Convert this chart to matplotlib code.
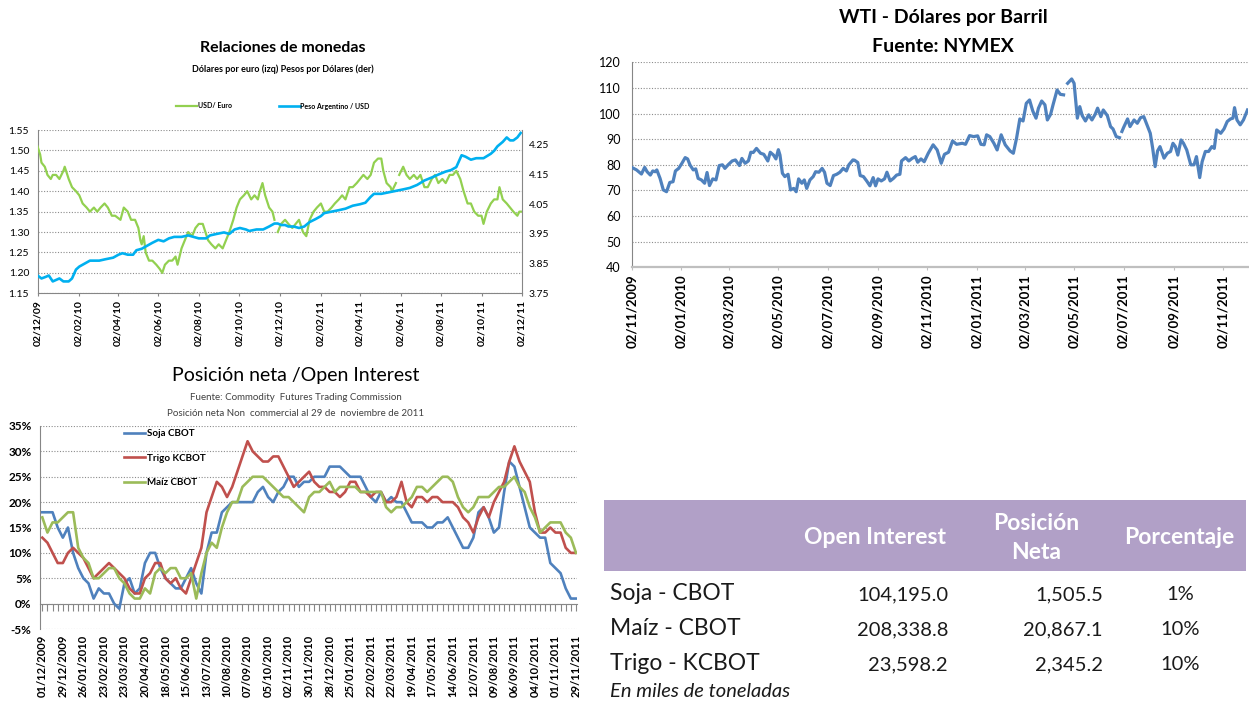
import numpy as np
import pandas as pd
import matplotlib
matplotlib.use("Agg")
import matplotlib.pyplot as plt
from matplotlib.patches import Rectangle

plt.rcParams['font.family'] = ['Lato', 'DejaVu Sans']

# ---------------- data: Relaciones de monedas ----------------
fx_start = "2009-12-02"
fx_end = "2011-12-02"
eur_days = [0, 4, 6, 11, 15, 20, 23, 28, 33, 39,
            41, 47, 52, 58, 63, 68, 74, 79, 85, 90,
            95, 101, 106, 112, 117, 125, 130, 136, 141, 147,
            152, 155, 157, 160, 163, 168, 173, 179, 184, 188,
            192, 198, 203, 208, 211, 217, 222, 227, 233, 238,
            243, 249, 253, 257, 262, 268, 273, 279, 284, 289,
            295, 300, 305, 311, 316, 322, 327, 332, 335, 339,
            343, 349, 354, 357, 359, 362, 367, 373, 378, 384,
            389, 394, 400, 405, 410, 416, 421, 427, 432, 437,
            443, 448, 454, 459, 464, 470, 475, 481, 486, 491,
            497, 502, 507, 513, 518, 521, 526, 532, 534, 540,
            542, 545, 551, 556, 561, 567, 572, 577, 583, 588,
            594, 599, 604, 610, 615, 621, 626, 631, 637, 642,
            648, 653, 658, 664, 669, 672, 677, 683, 688, 693,
            696, 701, 707, 712, 717, 723, 726, 730]
usd_euro = [1.51, 1.49, 1.47, 1.46, 1.44, 1.43, 1.44, 1.44, 1.43, 1.45,
            1.46, 1.43, 1.41, 1.40, 1.39, 1.37, 1.36, 1.35, 1.36, 1.35,
            1.36, 1.37, 1.36, 1.34, 1.34, 1.33, 1.36, 1.35, 1.33, 1.33,
            1.31, 1.28, 1.27, 1.29, 1.25, 1.23, 1.23, 1.22, 1.21, 1.20,
            1.22, 1.23, 1.23, 1.24, 1.22, 1.26, 1.28, 1.30, 1.29, 1.31,
            1.32, 1.32, 1.30, 1.28, 1.27, 1.26, 1.27, 1.26, 1.28, 1.30,
            1.33, 1.36, 1.38, 1.39, 1.40, 1.38, 1.39, 1.38, 1.40, 1.42,
            1.39, 1.36, 1.35, 1.33, np.nan, 1.30, 1.32, 1.33, 1.32, 1.31,
            1.32, 1.33, 1.30, 1.29, 1.33, 1.35, 1.36, 1.37, 1.35, 1.35,
            1.36, 1.37, 1.38, 1.39, 1.38, 1.41, 1.41, 1.42, 1.43, 1.44,
            1.43, 1.44, 1.47, 1.48, 1.48, 1.45, 1.42, 1.41, 1.40, 1.42,
            np.nan, 1.44, 1.46, 1.44, 1.43, 1.44, 1.43, 1.44, 1.41, 1.41,
            1.43, 1.44, 1.42, 1.43, 1.42, 1.44, 1.44, 1.45, 1.43, 1.40,
            1.37, 1.37, 1.35, 1.34, 1.34, 1.32, 1.35, 1.37, 1.38, 1.38,
            1.41, 1.38, 1.37, 1.36, 1.35, 1.34, 1.35, 1.35]
ars_days = [0, 6, 12, 17, 23, 28, 33, 39, 47, 52,
            58, 63, 71, 79, 85, 93, 103, 114, 122, 128,
            136, 144, 149, 157, 165, 173, 182, 190, 198, 206,
            217, 227, 235, 243, 254, 260, 270, 281, 289, 297,
            305, 314, 319, 330, 340, 349, 357, 362, 367, 373,
            378, 386, 394, 402, 410, 419, 427, 432, 443, 454,
            464, 475, 486, 494, 502, 507, 518, 529, 540, 551,
            561, 572, 583, 594, 604, 615, 623, 631, 639, 645,
            653, 661, 672, 683, 688, 693, 701, 707, 712, 717,
            723, 728]
peso_usd = [3.81, 3.80, 3.805, 3.81, 3.79, 3.795, 3.80, 3.79, 3.79, 3.80,
            3.83, 3.84, 3.85, 3.86, 3.86, 3.86, 3.865, 3.87, 3.88, 3.885,
            3.88, 3.88, 3.895, 3.90, 3.91, 3.92, 3.93, 3.925, 3.935, 3.94,
            3.94, 3.945, 3.94, 3.935, 3.935, 3.945, 3.95, 3.955, 3.95, 3.965,
            3.97, 3.965, 3.96, 3.965, 3.965, 3.975, 3.985, 3.985, 3.98, 3.98,
            3.975, 3.975, 3.97, 3.975, 3.99, 4.00, 4.01, 4.02, 4.025, 4.03,
            4.035, 4.045, 4.05, 4.055, 4.075, 4.085, 4.085, 4.09, 4.095, 4.10,
            4.105, 4.115, 4.13, 4.14, 4.15, 4.16, 4.165, 4.175, 4.215, 4.21,
            4.20, 4.205, 4.205, 4.22, 4.23, 4.245, 4.26, 4.275, 4.265, 4.265,
            4.275, 4.29]
fx_ticks = ["2009-12-02", "2010-02-02", "2010-04-02", "2010-06-02", "2010-08-02",
            "2010-10-02", "2010-12-02", "2011-02-02", "2011-04-02", "2011-06-02",
            "2011-08-02", "2011-10-02", "2011-12-02"]

# ---------------- data: WTI ----------------
wti_start = "2009-11-02"
wti_end = "2011-12-02"
wti_days = [0, 6, 12, 16, 19, 23, 26, 29, 31, 35,
            39, 43, 47, 51, 54, 58, 62, 66, 69, 72,
            76, 79, 82, 86, 90, 93, 96, 100, 104, 108,
            112, 115, 119, 124, 128, 133, 136, 140, 144, 147,
            150, 154, 159, 163, 168, 171, 175, 178, 181, 183,
            186, 189, 193, 196, 200, 203, 206, 210, 213, 216,
            220, 224, 227, 231, 235, 238, 241, 245, 249, 253,
            257, 261, 265, 268, 273, 275, 279, 282, 286, 290,
            294, 298, 301, 304, 308, 312, 315, 319, 323, 327,
            331, 333, 338, 342, 346, 350, 353, 357, 361, 366,
            372, 377, 382, 386, 391, 396, 401, 408, 412, 417,
            422, 427, 431, 435, 438, 442, 447, 451, 456, 461,
            467, 471, 475, 479, 483, 487, 491, 495, 499, 502,
            506, 510, 513, 517, 520, 525, 529, 533, 535, 538,
            543, 546, 550, 553, 556, 560, 564, 568, 572, 575,
            579, 582, 587, 591, 594, 598, 602, 603, 605, 607,
            612, 615, 620, 624, 628, 632, 636, 640, 643, 646,
            649, 652, 657, 661, 665, 668, 671, 674, 678, 681,
            685, 690, 694, 697, 701, 704, 708, 712, 716, 719,
            722, 727, 731, 735, 739, 742, 744, 747, 751, 755,
            760]
wti_price = [79.0, 78.0, 76.4, 79.0, 77.3, 76.0, 77.6, 77.3, 78.0, 74.7,
             70.2, 69.5, 73.1, 73.4, 77.6, 78.6, 80.6, 82.8, 82.3, 79.9,
             78.0, 78.4, 74.7, 74.1, 72.8, 77.0, 71.9, 74.5, 74.1, 79.7,
             80.0, 78.6, 80.0, 81.5, 81.9, 79.7, 82.5, 80.6, 81.5, 84.9,
             84.8, 86.4, 84.5, 84.1, 81.5, 84.9, 83.8, 82.3, 85.9, 83.8,
             76.7, 75.4, 76.3, 70.2, 70.8, 69.5, 74.5, 72.8, 74.1, 70.8,
             74.1, 75.4, 77.3, 77.1, 78.6, 77.1, 72.8, 71.9, 75.8, 76.3,
             77.1, 78.6, 77.6, 80.0, 81.9, 81.8, 80.9, 75.8, 75.4, 73.7,
             71.8, 75.0, 71.8, 74.5, 73.7, 74.5, 77.1, 73.7, 74.7, 76.0,
             76.3, 81.5, 82.8, 81.5, 82.5, 83.2, 81.0, 82.3, 81.2, 84.5,
             87.8, 85.8, 80.6, 84.1, 84.9, 89.3, 88.0, 88.4, 88.0, 91.4,
             91.0, 91.3, 88.0, 87.8, 91.7, 91.0, 88.4, 85.8, 91.7, 87.8,
             85.4, 84.5, 90.4, 97.9, 97.1, 104.0, 105.3, 101.0, 98.2, 102.1,
             104.9, 103.4, 97.5, 99.7, 103.4, 109.2, 107.5, 107.3, np.nan, 111.8,
             113.5, 111.8, 98.2, 102.7, 99.2, 97.1, 99.5, 97.5, 99.7, 102.1,
             98.8, 101.4, 99.2, 94.9, 94.0, 91.0, 90.6, np.nan, 93.0, 94.5,
             97.9, 94.9, 97.5, 96.2, 98.4, 98.8, 95.6, 92.3, 86.4, 79.3,
             85.4, 87.1, 82.6, 84.5, 85.2, 88.4, 87.1, 83.8, 89.7, 88.4,
             85.8, 80.0, 80.0, 83.2, 75.0, 81.2, 85.2, 85.2, 87.1, 86.4,
             93.6, 92.3, 94.0, 96.9, 97.9, 98.2, 102.3, 97.5, 95.6, 97.5,
             101.4]
wti_ticks = ["2009-11-02", "2010-01-02", "2010-03-02", "2010-05-02", "2010-07-02",
             "2010-09-02", "2010-11-02", "2011-01-02", "2011-03-02", "2011-05-02",
             "2011-07-02", "2011-09-02", "2011-11-02"]

# ---------------- data: Posicion neta / Open Interest (weekly, %) ----------------
cot_labels = ["01/12/2009", "29/12/2009", "26/01/2010", "23/02/2010", "23/03/2010",
              "20/04/2010", "18/05/2010", "15/06/2010", "13/07/2010", "10/08/2010",
              "07/09/2010", "05/10/2010", "02/11/2010", "30/11/2010", "28/12/2010",
              "25/01/2011", "22/02/2011", "22/03/2011", "19/04/2011", "17/05/2011",
              "14/06/2011", "12/07/2011", "09/08/2011", "06/09/2011", "04/10/2011",
              "01/11/2011", "29/11/2011"]
soja = [18, 18, 18, 15, 13, 15, 10, 7, 5, 4,
        1, 3, 2, 2, 0, -1, 4, 5, 2, 3,
        8, 10, 10, 7, 5, 4, 3, 3, 5, 7,
        4, 2, 10, 14, 14, 18, 19, 20, 20, 20,
        20, 20, 22, 23, 21, 20, 22, 23, 25, 25,
        23, 24, 24, 25, 25, 25, 27, 27, 27, 26,
        25, 25, 25, 23, 21, 20, 22, 20, 21, 20,
        20, 18, 16, 16, 16, 15, 15, 16, 16, 17,
        15, 13, 11, 11, 13, 18, 19, 17, 14, 15,
        22, 28, 27, 23, 19, 15, 14, 13, 13, 8,
        7, 6, 3, 1, 1]
trigo = [13, 12, 10, 8, 8, 10, 11, 10, 9, 7,
         5, 6, 7, 8, 7, 6, 5, 3, 2, 2,
         5, 6, 8, 8, 5, 4, 5, 3, 2, 5,
         8, 11, 18, 21, 24, 23, 21, 23, 26, 29,
         32, 30, 29, 28, 28, 29, 29, 27, 25, 23,
         24, 25, 26, 24, 23, 23, 22, 22, 21, 22,
         24, 24, 22, 22, 21, 22, 22, 20, 20, 21,
         24, 20, 19, 21, 21, 20, 21, 21, 20, 20,
         20, 19, 17, 16, 14, 17, 19, 17, 20, 22,
         24, 28, 31, 28, 26, 24, 18, 14, 14, 15,
         14, 14, 11, 10, 10]
maiz = [17, 14, 16, 16, 17, 18, 18, 11, 9, 8,
        5, 5, 6, 7, 7, 5, 4, 2, 1, 1,
        3, 2, 6, 7, 6, 7, 7, 5, 5, 6,
        1, 6, 10, 12, 11, 15, 18, 20, 20, 23,
        24, 25, 25, 25, 24, 23, 22, 21, 21, 20,
        19, 18, 21, 22, 22, 23, 24, 22, 23, 23,
        23, 23, 22, 22, 22, 22, 22, 19, 18, 19,
        19, 20, 21, 23, 23, 22, 23, 24, 25, 25,
        24, 21, 19, 18, 19, 21, 21, 21, 22, 23,
        23, 24, 25, 23, 22, 19, 17, 14, 15, 16,
        16, 16, 14, 13, 10]

# ---------------- data: table ----------------
table_cols = ["Open Interest", "Posición\nNeta", "Porcentaje"]
table_rows = ["Soja - CBOT", "Maíz - CBOT", "Trigo - KCBOT"]
open_interest = [104195.0, 208338.8, 23598.2]
posicion_neta = [1505.5, 20867.1, 2345.2]
porcentaje = [1, 10, 10]
table_note = "En miles de toneladas"

# ---------------- figure ----------------
W, H = 1249, 709
fig = plt.figure(figsize=(W / 100, H / 100), dpi=100)
fig.patch.set_facecolor('white')


def rect(l, t, r, b):
    return [l / W, 1 - b / H, (r - l) / W, (b - t) / H]


def ftext(x, y, s, **kw):
    return fig.text(x / W, 1 - y / H, s, **kw)


GRID = dict(color='#8C8C8C', linestyle=(0, (1, 1.5)), linewidth=0.8)
SPINE = '#868686'

# ===== Panel 1: Relaciones de monedas =====
ax1 = fig.add_axes(rect(37.5, 130, 522, 293.3))
t0 = pd.Timestamp(fx_start)
eur_dates = t0 + pd.to_timedelta(eur_days, unit='D')
ars_dates = t0 + pd.to_timedelta(ars_days, unit='D')
l_eur, = ax1.plot(eur_dates, usd_euro, color='#92D050', lw=1.6, zorder=3)
ax1.set_ylim(1.15, 1.55)
ax1.set_yticks(np.arange(1.15, 1.5501, 0.05))
ax1.set_yticklabels([f"{v:.2f}" for v in np.arange(1.15, 1.5501, 0.05)])
ax1.yaxis.grid(True, **GRID)
ax1.set_axisbelow(True)
ax1.set_xlim(t0, pd.Timestamp(fx_end))
tk = [pd.Timestamp(d) for d in fx_ticks]
ax1.set_xticks(tk)
ax1.set_xticklabels([d.strftime('%d/%m/%y') for d in tk], rotation=90,
                    fontsize=7.5, fontweight='bold')
ax1.tick_params(axis='y', length=0, labelsize=7.5, pad=6)
ax1.tick_params(axis='x', length=2, color=SPINE, pad=3)
for s in ['left', 'bottom']:
    ax1.spines[s].set_color(SPINE)
ax1.spines['top'].set_visible(False)
ax1.spines['right'].set_visible(False)

ax1b = ax1.twinx()
l_ars, = ax1b.plot(ars_dates, peso_usd, color='#00B0F0', lw=1.9, zorder=3)
ax1b.set_ylim(3.75, 4.30)
rt = [3.75, 3.85, 3.95, 4.05, 4.15, 4.25]
ax1b.set_yticks(rt)
ax1b.set_yticklabels([f"{v:.2f}" for v in rt])
ax1b.tick_params(axis='y', length=0, labelsize=7.5, pad=5)
ax1b.spines['right'].set_color(SPINE)
for s in ['left', 'bottom', 'top']:
    ax1b.spines[s].set_visible(False)

ftext(283, 48, "Relaciones de monedas", ha='center', va='center',
      fontsize=11.5, fontweight='bold')
ftext(283, 69, "Dólares por euro (izq) Pesos por Dólares (der)", ha='center',
      va='center', fontsize=6.5, fontweight='bold')
fig.legend([l_eur, l_ars], ["USD/ Euro", "Peso Argentino / USD"],
           loc='center left', bbox_to_anchor=(176 / W, 1 - 106 / H), ncol=2,
           frameon=False, prop={'weight': 'bold', 'size': 5},
           handlelength=3.0, handletextpad=0.1, columnspacing=6.8,
           borderpad=0, borderaxespad=0)

# ===== Panel 2: WTI =====
ax2 = fig.add_axes(rect(631.7, 62.3, 1247.5, 267.3))
w0 = pd.Timestamp(wti_start)
wti_dates = w0 + pd.to_timedelta(wti_days, unit='D')
ax2.plot(wti_dates, wti_price, color='#4F81BD', lw=2.3, zorder=3)
ax2.set_ylim(40, 120)
ax2.set_yticks(range(40, 121, 10))
ax2.yaxis.grid(True, **GRID)
ax2.set_axisbelow(True)
ax2.set_xlim(w0, pd.Timestamp(wti_end))
wt = [pd.Timestamp(d) for d in wti_ticks]
ax2.set_xticks(wt)
ax2.set_xticklabels([d.strftime('%d/%m/%Y') for d in wt], rotation=90,
                    fontsize=9.5, fontweight='bold')
ax2.tick_params(axis='y', length=0, labelsize=9, pad=8)
ax2.tick_params(axis='x', length=2, color='#BFBFBF', pad=3)
ax2.spines['left'].set_color(SPINE)
ax2.spines['bottom'].set_color('#BFBFBF')
ax2.spines['bottom'].set_linewidth(1.6)
ax2.spines['top'].set_visible(False)
ax2.spines['right'].set_visible(False)
ftext(943, 18, "WTI - Dólares por Barril", ha='center', va='center',
      fontsize=14, fontweight='bold')
ftext(943, 47, "Fuente: NYMEX", ha='center', va='center',
      fontsize=14, fontweight='bold')

# ===== Panel 3: Posicion neta / Open Interest =====
ax3 = fig.add_axes(rect(40, 426, 577, 629))
weeks = np.arange(len(soja))
ax3.plot(weeks, soja, color='#4F81BD', lw=1.9, label='Soja CBOT', zorder=3)
ax3.plot(weeks, trigo, color='#C0504D', lw=1.9, label='Trigo KCBOT', zorder=3)
ax3.plot(weeks, maiz, color='#9BBB59', lw=1.9, label='Maíz CBOT', zorder=3)
ax3.set_ylim(-5, 35)
ax3.set_yticks(range(-5, 36, 5))
ax3.set_yticklabels([f"{v}%" for v in range(-5, 36, 5)])
ax3.yaxis.grid(True, **GRID)
ax3.set_axisbelow(True)
ax3.set_xlim(-0.45, len(soja) - 0.8)
ax3.set_xticks(weeks[::4])
ax3.set_xticklabels(cot_labels, rotation=90, fontsize=8, fontweight='bold')
ax3.tick_params(axis='x', length=0, pad=4)
ax3.tick_params(axis='y', length=0, labelsize=8.5, pad=6)
for lab in ax3.get_yticklabels():
    lab.set_fontweight('bold')
ax3.spines['left'].set_color(SPINE)
for s in ['top', 'right', 'bottom']:
    ax3.spines[s].set_visible(False)
sec = ax3.secondary_xaxis(5 / 40)
sec.set_xticks(weeks)
sec.xaxis.set_ticks_position('bottom')
sec.tick_params(axis='x', direction='out', length=5, color=SPINE, width=0.8,
                labelbottom=False, labeltop=False)
sec.spines['bottom'].set_color(SPINE)
for s in ['top', 'left', 'right']:
    sec.spines[s].set_visible(False)
ax3.legend(loc='upper left', bbox_to_anchor=(124 / W, 1 - 429 / H),
           bbox_transform=fig.transFigure, frameon=False,
           prop={'weight': 'bold', 'size': 7}, labelspacing=1.6,
           handlelength=2.2, handletextpad=0.15, borderpad=0, borderaxespad=0)
ftext(296, 376, "Posición neta /Open Interest", ha='center', va='center',
      fontsize=14)
ftext(296, 398, "Fuente: Commodity  Futures Trading Commission", ha='center',
      va='center', fontsize=7, color='#404040')
ftext(296, 413, "Posición neta Non  commercial al 29 de  noviembre de 2011",
      ha='center', va='center', fontsize=7, color='#404040')

# ===== Panel 4: table =====
fig.add_artist(Rectangle((604 / W, 1 - 571 / H), (1246 - 604) / W, 71 / H,
                         transform=fig.transFigure, facecolor='#B1A0C7',
                         edgecolor='none'))
col_x = [875, 1036, 1179]
for cx, c in zip(col_x, table_cols):
    ftext(cx, 538, c, ha='center', va='center', fontsize=16.5,
          fontweight='bold', color='white', linespacing=1.45,
          multialignment='center')
row_y = [600, 635, 670]
for ry, name, oi, pn, pc in zip(row_y, table_rows, open_interest,
                                posicion_neta, porcentaje):
    ftext(610, ry, name, ha='left', va='baseline', fontsize=16.5, color='#1A1A1A')
    ftext(948, ry, f"{oi:,.1f}", ha='right', va='baseline', fontsize=14.5,
          color='#1A1A1A')
    ftext(1103, ry, f"{pn:,.1f}", ha='right', va='baseline', fontsize=14.5,
          color='#1A1A1A')
    ftext(1180, ry, f"{pc}%", ha='center', va='baseline', fontsize=14.5,
          color='#1A1A1A')
ftext(610, 697, table_note, ha='left', va='baseline', fontsize=14.5,
      style='italic', color='#1A1A1A')

fig.savefig("out.png", dpi=100, facecolor='white')
